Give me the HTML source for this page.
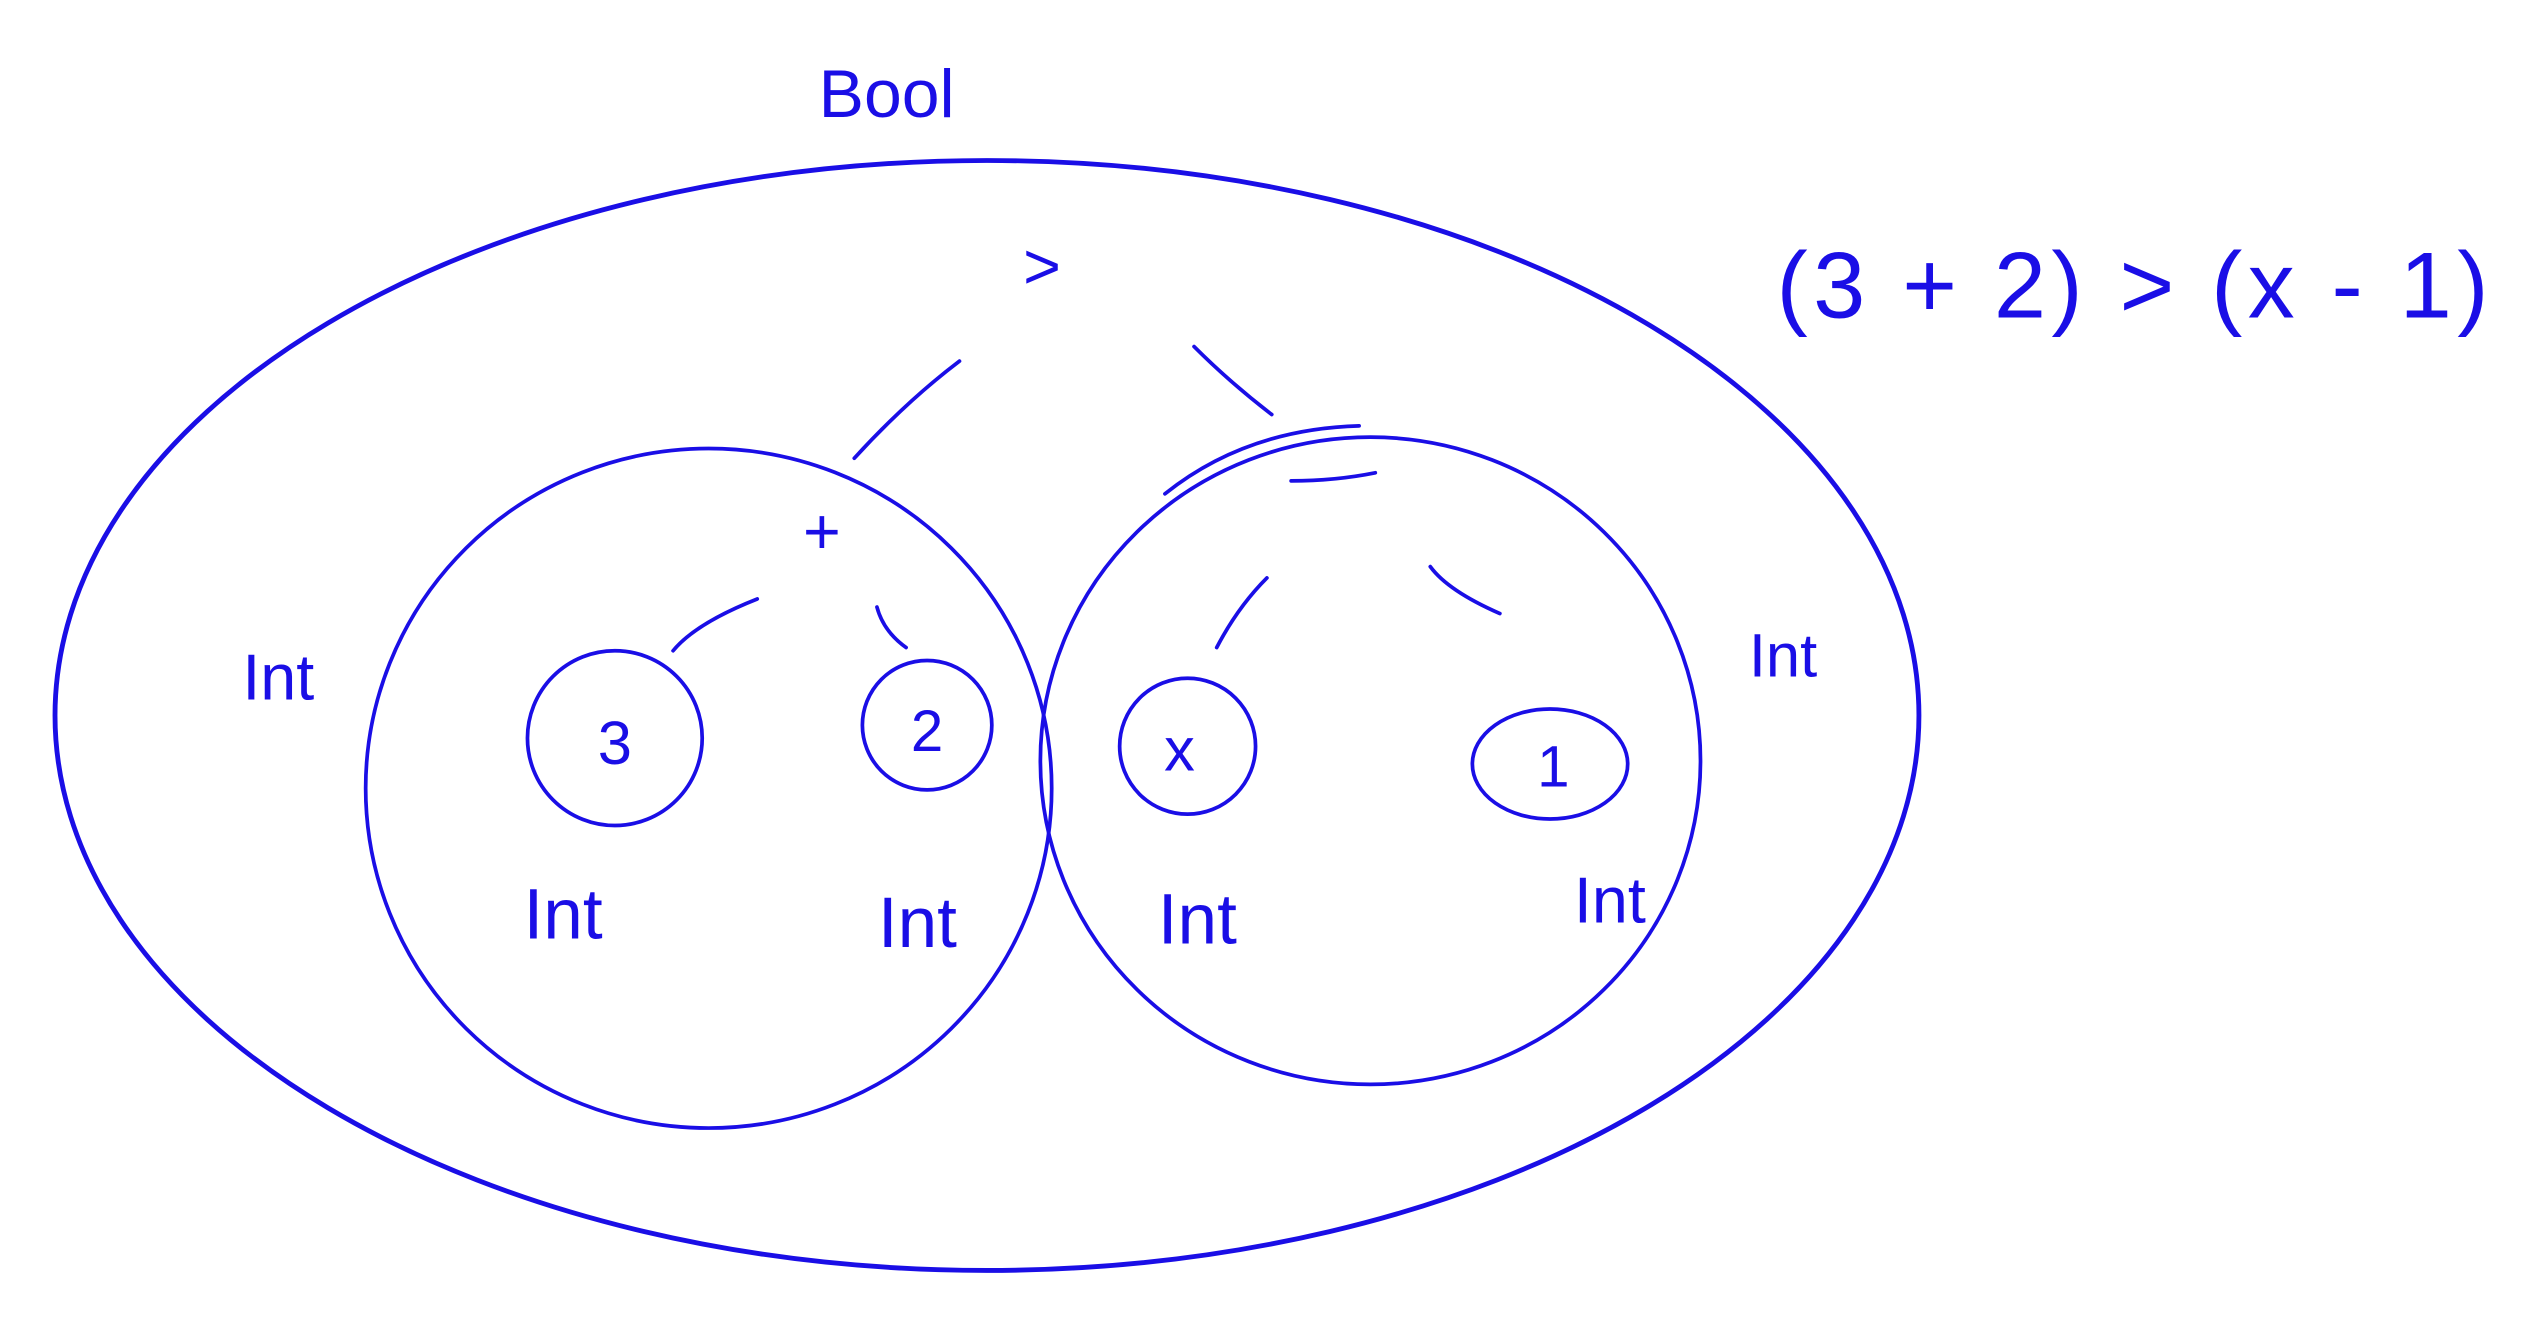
<!DOCTYPE html>
<html><head><meta charset="utf-8"><style>
html,body{margin:0;padding:0;background:#fff;}
svg{display:block;}
text{font-family:"Liberation Sans",sans-serif;fill:#1a0ee6;}
</style></head><body>
<svg width="2537" height="1329" viewBox="0 0 1568 821" xmlns="http://www.w3.org/2000/svg">
<g fill="none" stroke="#1a0ee6" stroke-width="2.3" stroke-linecap="round">
<ellipse cx="610" cy="442" rx="576" ry="343" stroke-width="3"/>
<ellipse cx="438" cy="487" rx="212" ry="210"/>
<ellipse cx="847" cy="470" rx="204" ry="200"/>
<circle cx="380" cy="456" r="54"/>
<circle cx="573" cy="448" r="40"/>
<circle cx="734" cy="461" r="42"/>
<ellipse cx="958" cy="472" rx="48" ry="34"/>
<path d="M528 283 Q560 248 593 223"/>
<path d="M738 214 Q760 236 786 256"/>
<path d="M720 305 Q770 265 840 263"/>
<path d="M798 297 Q825 297 850 292"/>
<path d="M416 402 Q430 385 468 370"/>
<path d="M542 375 Q546 390 560 400"/>
<path d="M752 400 Q765 375 783 357"/>
<path d="M884 350 Q895 365 927 379"/>
</g>
<g text-anchor="middle">
<text x="548" y="72" font-size="42">Bool</text>
<text x="644" y="178" font-size="40">&gt;</text>
<text x="508" y="342" font-size="40">+</text>
<text x="380" y="472" font-size="38">3</text>
<text x="573" y="464" font-size="36">2</text>
<text x="729" y="476" font-size="38">x</text>
<text x="960" y="486" font-size="36">1</text>
<text x="172" y="432" font-size="40">Int</text>
<text x="348" y="580" font-size="44">Int</text>
<text x="567" y="585" font-size="44">Int</text>
<text x="740" y="583" font-size="44">Int</text>
<text x="995" y="570" font-size="40">Int</text>
<text x="1102" y="418" font-size="38">Int</text>
<text x="1318" y="196" font-size="58" textLength="440" lengthAdjust="spacing">(3 + 2) &gt; (x - 1)</text>
</g>
</svg>
</body></html>
